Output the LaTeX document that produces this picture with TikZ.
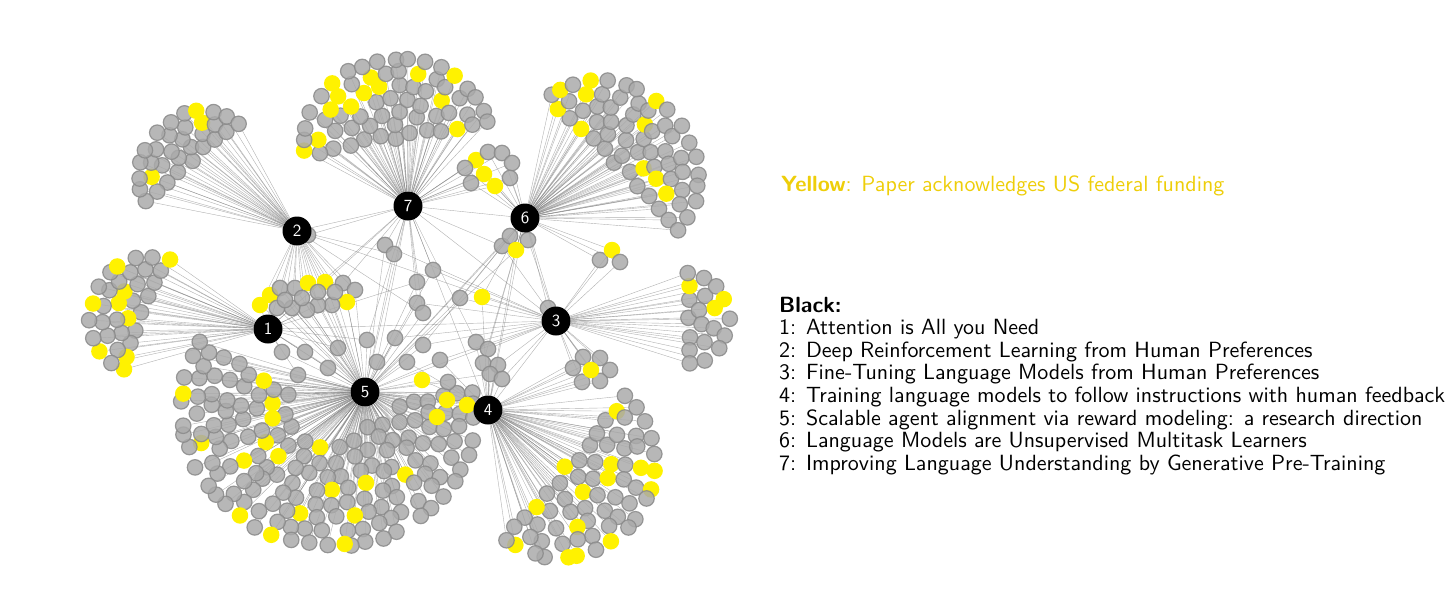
\documentclass[tikz,border=0pt]{standalone}
\usepackage{fontspec}
\newfontfamily\legfont{lmsans10-regular.otf}[BoldFont=lmsans10-bold.otf]
\pgfdeclarelayer{edges}
\pgfdeclarelayer{hubs}
\pgfsetlayers{edges,main,hubs}
\definecolor{leafgray}{RGB}{170,170,170}
\definecolor{leafedge}{RGB}{138,138,138}
\definecolor{edgecol}{RGB}{125,125,125}
\definecolor{goldtext}{RGB}{238,206,10}
\tikzset{
  gnode/.style={circle, minimum size=15.5pt, inner sep=0pt, fill=leafgray, draw=leafedge, line width=1.2pt, fill opacity=0.85, draw opacity=0.85},
  ynode/.style={circle, minimum size=16.5pt, inner sep=0pt, fill=yellow},
  hub/.style={circle, minimum size=29pt, inner sep=0pt, fill=black, text=white, font=\legfont\fontsize{17}{17}\selectfont},
  edge/.style={draw=edgecol, line width=0.4pt, draw opacity=0.6},
  legend/.style={anchor=base west, inner sep=0pt, font=\legfont\fontsize{22}{26}\selectfont},
}
\newcommand\leaf[4]{\ifnum#4=1 \node[ynode] (#1) at (#2,#3) {};\else \node[gnode] (#1) at (#2,#3) {};\fi}
\def\fanrin{6}\def\fanrs{13.5}\def\fanas{16.5}
\def\exclon{0}\def\exclx{0}\def\excly{0}
\def\edgelist{h2/h7,h2/h3,h2/h5,h1/h3,h1/h5,h1/h7,h7/h3,h7/h5,h7/h4,h7/h6,h6/h3,h6/h4,h6/h5,h5/h4,h5/h3,h4/h3}
% #1 name #2 hub #3 cx #4 cy #5 dir #6 span #7 rout #8 depth #9 yellow probability
\newcommand\fan[9]{%
  \pgfmathtruncatemacro\fannring{floor((#7-\fanrin)/\fanrs)}%
  \foreach \k in {0,...,\fannring}{%
    \pgfmathsetmacro\fanr{\fanrin+\fanrs*\k}%
    \pgfmathtruncatemacro\fann{max(1,round(#6/180*3.14159*\fanr/\fanas))}%
    \foreach \j in {1,...,\fann}{%
      \pgfmathsetmacro\fanth{-#6/2+(\j-0.5)*#6/\fann+3*rand}%
      \pgfmathsetmacro\fanu{#8*(\fanr*cos(\fanth))+1.5*rand}%
      \pgfmathsetmacro\fanv{\fanr*sin(\fanth)+1.5*rand}%
      \pgfmathsetmacro\fanx{#3+\fanu*cos(#5)-\fanv*sin(#5)}%
      \pgfmathsetmacro\fany{#4+\fanu*sin(#5)+\fanv*cos(#5)}%
      \pgfmathtruncatemacro\fanyl{rnd<#9 ? 1 : 0}%
      \def\fanok{1}%
      \ifnum\exclon=1 \pgfmathtruncatemacro\fanok{veclen(\fanx-\exclx,\fany-\excly)>33 ? 1 : 0}\fi
      \ifnum\fanok=1
        \leaf{#1-\k-\j}{\fanx}{\fany}{\fanyl}%
        \xdef\edgelist{\edgelist,#2/#1-\k-\j}%
      \fi
    }%
  }%
}
\begin{document}
\begin{tikzpicture}[x=1pt,y=-1pt]
\pgfmathsetseed{11}
\useasboundingbox (0,0) rectangle (1456,613);
% hubs
\begin{pgfonlayer}{hubs}
\node[hub] (h1) at (268,329) {1};
\node[hub] (h2) at (297,231) {2};
\node[hub] (h3) at (556,321) {3};
\node[hub] (h4) at (488,410) {4};
\node[hub] (h5) at (365,392) {5};
\node[hub] (h6) at (525,218) {6};
\node[hub] (h7) at (408,206) {7};
\end{pgfonlayer}
% big fans
\fan{k1}{h1}{146}{315}{200}{195}{62}{0.92}{0.2}
\fan{k3}{h3}{682}{318}{0}{185}{47}{1}{0.14}
\def\fanrs{14}\def\fanas{17}\def\fanrin{4}
\fan{k2}{h2}{193}{163}{230}{195}{60}{0.78}{0.06}
\def\fanrs{15}\def\fanas{17.5}\def\fanrin{2}
\fan{k7}{h7}{396}{140}{-99}{192}{92}{0.88}{0.17}
\def\fanrin{3}
\fan{k6}{h6}{612}{166}{-45}{185}{93}{0.85}{0.14}
\fan{k4}{h4}{563}{466}{40}{190}{93}{0.97}{0.27}
\def\fanrin{42}\def\exclon{1}\def\exclx{365}\def\excly{392}
\fan{k5}{h5}{328}{410}{100}{224}{147}{0.92}{0.12}
\def\exclon{0}
% scattered and small groups
\foreach \nm/\x/\y/\c/\hs in {
 s1/385/245/0/{h7,h5,h3}, s2/394/254/0/{h7,h5,h2}, s3/433/270/0/{h7,h3,h5},
 s4/417/282/0/{h7,h5,h1}, s5/417/303/0/{h5,h3,h7}, s6/423/313/0/{h5,h7,h2},
 s7/460/298/0/{h6,h3,h5}, s8/482/297/1/{h6,h3,h4}, s9/367/340/0/{h5,h1,h7},
 s10/395/338/0/{h5,h3}, s11/423/345/0/{h5,h3,h6}, s12/338/348/0/{h5,h1},
 s13/282/352/0/{h1,h5}, s14/305/352/0/{h1,h5}, s15/328/368/0/{h5,h1},
 s16/298/375/0/{h5,h1}, s17/377/362/0/{h5,h7}, s18/407/362/0/{h5,h4},
 s19/440/360/0/{h5,h4,h3}, s20/476/342/0/{h3,h4,h7}, s21/488/349/0/{h3,h4,h6},
 s22/483/363/0/{h4,h6}, s23/498/365/0/{h4,h3}, s24/490/374/0/{h4,h5},
 s25/502/379/0/{h4,h3}, s26/422/380/1/{h5,h4}, s27/448/382/0/{h5,h4},
 s28/447/400/1/{h5,h4}, s29/467/405/1/{h4,h5}, s30/437/417/1/{h4,h5},
 s31/548/308/0/{h3,h6}, s32/308/235/0/{h2,h7},
 a1/476/160/1/{h7,h6}, a2/488/152/0/{h7,h6}, a3/502/153/0/{h7,h6},
 a4/512/163/0/{h7,h6}, a5/510/178/0/{h7,h6}, a6/495/186/1/{h7,h6},
 a7/484/174/1/{h7,h6}, a8/465/168/0/{h7,h6}, a9/471/183/0/{h7,h6},
 b1/502/246/0/{h6,h3,h7}, b2/510/236/0/{h6,h5}, b3/528/240/0/{h6,h3},
 b4/516/250/1/{h6,h4,h5},
 g1/600/260/0/{h6,h3}, g2/612/250/1/{h6,h3}, g3/620/262/0/{h6,h3},
 d1/583/357/0/{h3,h4}, d2/600/358/0/{h3,h4}, d3/610/370/0/{h3,h4},
 d4/600/381/0/{h3,h4}, d5/582/382/0/{h3,h4}, d6/573/368/0/{h3,h4},
 d7/591/370/1/{h3,h4},
 e1/260/305/1/{h1,h2,h5}, e2/270/295/1/{h1,h2,h5}, e3/280/288/0/{h2,h5,h1},
 e4/295/288/0/{h2,h5}, e5/308/283/1/{h2,h5}, e6/325/282/1/{h2,h5,h7},
 e7/343/283/0/{h2,h5,h7}, e8/355/290/0/{h2,h5}, e9/347/302/1/{h2,h5},
 e10/332/305/0/{h2,h5}, e11/318/305/0/{h2,h5,h1}, e12/307/310/0/{h2,h5,h1},
 e13/292/308/0/{h2,h5,h1}, e14/277/308/0/{h2,h1,h5}, e15/285/300/0/{h2,h5},
 e16/302/298/0/{h2,h5}, e17/318/292/0/{h2,h5}, e18/335/292/0/{h2,h5}}{
  \leaf{\nm}{\x}{\y}{\c}
  \foreach \h in \hs {\xdef\edgelist{\edgelist,\h/\nm}}
}
% all connectors, behind the nodes
\begin{pgfonlayer}{edges}
\foreach \a/\b in \edgelist {\draw[edge] (\a) -- (\b);}
\end{pgfonlayer}
% legend
\node[legend, text=goldtext] (ly) at (781,191) {\textbf{Yellow}: Paper acknowledges US federal funding};
\node[legend] (lb) at (779,312) {\textbf{Black:}};
\foreach \i/\t in {1/{Attention is All you Need},
  2/{Deep Reinforcement Learning from Human Preferences},
  3/{Fine-Tuning Language Models from Human Preferences},
  4/{Training language models to follow instructions with human feedback},
  5/{Scalable agent alignment via reward modeling: a research direction},
  6/{Language Models are Unsupervised Multitask Learners},
  7/{Improving Language Understanding by Generative Pre-Training}}
  {\node[legend] (l\i) at (779,{312+22.6*\i}) {\i: \t};}
\end{tikzpicture}
\end{document}
